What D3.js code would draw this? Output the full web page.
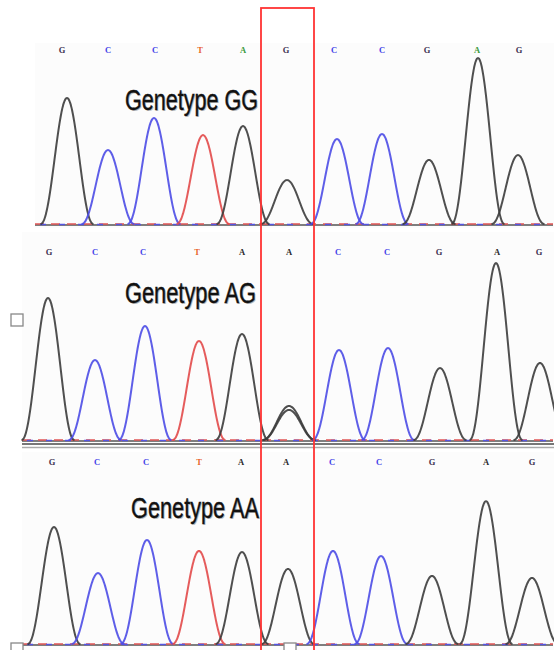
<!DOCTYPE html>
<html><head><meta charset="utf-8">
<script src="https://cdn.jsdelivr.net/npm/d3@7"></script>
<style>html,body{margin:0;padding:0;background:#fff;}svg{display:block;}</style>
</head><body>
<svg id="c" width="554" height="650"></svg>
<script>
// ---- data (scan positions and signal heights) ----
const titles = ["Genetype GG", "Genetype AG", "Genetype AA"];

const labelBases1 = ["G","C","C","T","A","G","C","C","G","A","G"];
const labelPos1   = [27,73,120,165,208,251,299,347,392,442,484];
const peakBases1  = ["G","C","C","T","A","G","C","C","G","A","G"];
const peakPos1    = [32,73,119,168,208,252,302,347,394,443,483];
const peakHt1     = [700,411,589,494,544,244,472,500,356,922,383];

const labelBases2 = ["G","C","C","T","A","A","C","C","G","A","G"];
const labelPos2   = [14,60,108,162,207,254,303,352,404,462,504];
const peakBases2  = ["G","C","C","T","A","A","G","C","C","G","A","G"];
const peakPos2    = [13,60,110,164,207,254,254,304,353,405,461,505];
const peakHt2     = [789,444,633,550,589,189,167,500,511,400,983,428];

const labelBases3 = ["G","C","C","T","A","A","C","C","G","A","G"];
const labelPos3   = [17,62,111,164,206,251,297,344,397,451,497];
const peakBases3  = ["G","C","C","T","A","A","C","C","G","A","G"];
const peakPos3    = [19,63,112,164,207,253,298,346,397,451,497];
const peakHt3     = [650,394,578,517,511,417,517,489,378,794,367];

const highlight = [226, 279]; // scan window of the SNP box

// ---- layout ----
const svg = d3.select("#c");
const x = d3.scaleLinear().domain([0, 520]).range([35, 555]);
const traceColor = {G:"#3c3c3c", A:"#3c3c3c", C:"#4d4de6", T:"#e24a4a"};
const labelColor1 = {G:"#3a3050", A:"#3a9a3a", C:"#4040e8", T:"#e8642a"};
const labelColor2 = {G:"#3a3050", A:"#2a2a2a", C:"#4040e8", T:"#e8642a"};

const panels = [
  {title:titles[0], tx:125, ty:110, tw:133, lb:labelBases1, lp:labelPos1, pb:peakBases1, pp:peakPos1, ph:peakHt1,
   base:224, ly:53, lc:labelColor1, bgx0:0, bgy:43, bgh:185},
  {title:titles[1], tx:125, ty:303, tw:131, lb:labelBases2, lp:labelPos2, pb:peakBases2, pp:peakPos2, ph:peakHt2,
   base:440, ly:255, lc:labelColor2, bgx0:-13, bgy:232, bgh:208},
  {title:titles[2], tx:131, ty:518, tw:128, lb:labelBases3, lp:labelPos3, pb:peakBases3, pp:peakPos3, ph:peakHt3,
   base:644, ly:465, lc:labelColor2, bgx0:-13, bgy:452, bgh:198}
];

const halfW = 26.5; // peak half-width at the base, in scan units
panels.forEach((P, i) => {
  const y = d3.scaleLinear().domain([0, 1000]).range([P.base, P.base - 180]);
  const g = svg.append("g");
  g.append("rect").attr("x", x(P.bgx0)).attr("y", P.bgy).attr("width", 554 - x(P.bgx0)).attr("height", P.bgh)
    .attr("fill", "#fcfcfc");

  // baseline (mixed-channel noise look)
  const bl = g.append("g");
  bl.append("line").attr("x1", x(P.bgx0)).attr("x2", 553).attr("y1", y(0)+1).attr("y2", y(0)+1)
    .attr("stroke", "#555").attr("stroke-width", 1.6);
  bl.append("line").attr("x1", x(P.bgx0)).attr("x2", 553).attr("y1", y(0)).attr("y2", y(0))
    .attr("stroke", "#e05555").attr("stroke-width", 1.3).attr("stroke-dasharray", "9 7");
  bl.append("line").attr("x1", x(P.bgx0)+5).attr("x2", 553).attr("y1", y(0)+0.5).attr("y2", y(0)+0.5)
    .attr("stroke", "#5555e0").attr("stroke-width", 1.3).attr("stroke-dasharray", "6 13");

  // peaks
  const line = d3.line().x(d => x(d[0])).y(d => y(d[1])).curve(d3.curveBasis);
  P.pp.forEach((p, k) => {
    const pts = d3.range(-halfW, halfW + 0.01, 0.5).map(dx => {
      const c = Math.cos(Math.PI * dx / (2 * halfW));
      return [p + dx, P.ph[k] * Math.pow(Math.max(c, 0), 2.2)];
    });
    g.append("path").attr("d", line(pts)).attr("fill", "none")
      .attr("stroke", traceColor[P.pb[k]]).attr("stroke-width", 2).attr("stroke-opacity", 0.9)
      .attr("stroke-linejoin", "round");
  });

  // base calls
  g.selectAll("text.b").data(P.lb).join("text").attr("class","b")
    .attr("x", (d, k) => x(P.lp[k])).attr("y", P.ly).attr("text-anchor", "middle")
    .attr("font-family", "Liberation Serif, DejaVu Serif, serif").attr("font-weight", "bold")
    .attr("font-size", 8.5).attr("fill", d => P.lc[d]).text(d => d);

  // title
  g.append("text").attr("x", P.tx+1).attr("y", P.ty+1).attr("font-family", "Liberation Sans, Arial, sans-serif")
    .attr("font-size", 29).attr("fill", "#bbb").attr("textLength", P.tw).attr("lengthAdjust", "spacingAndGlyphs")
    .text(P.title);
  g.append("text").attr("x", P.tx).attr("y", P.ty).attr("font-family", "Liberation Sans, Arial, sans-serif")
    .attr("font-size", 29).attr("fill", "#111").attr("stroke", "#111").attr("stroke-width", 0.4)
    .attr("textLength", P.tw).attr("lengthAdjust", "spacingAndGlyphs")
    .text(P.title);
});

// separator under second panel
svg.append("line").attr("x1", 22).attr("x2", 554).attr("y1", 444).attr("y2", 444).attr("stroke", "#777").attr("stroke-width", 2);
svg.append("line").attr("x1", 22).attr("x2", 554).attr("y1", 447.5).attr("y2", 447.5).attr("stroke", "#aaa").attr("stroke-width", 1.5);

// checkboxes
[[11,314],[11,643],[284,643]].forEach(([cx, cy]) => {
  svg.append("rect").attr("x", cx).attr("y", cy).attr("width", 12).attr("height", 12)
    .attr("fill", "#fff").attr("stroke", "#888").attr("stroke-width", 1.3);
});

// SNP highlight box
svg.append("rect").attr("x", x(highlight[0])).attr("y", 8).attr("width", x(highlight[1]) - x(highlight[0])).attr("height", 660)
  .attr("fill", "none").attr("stroke", "#ff3333").attr("stroke-width", 1.8);
</script>
</body></html>
